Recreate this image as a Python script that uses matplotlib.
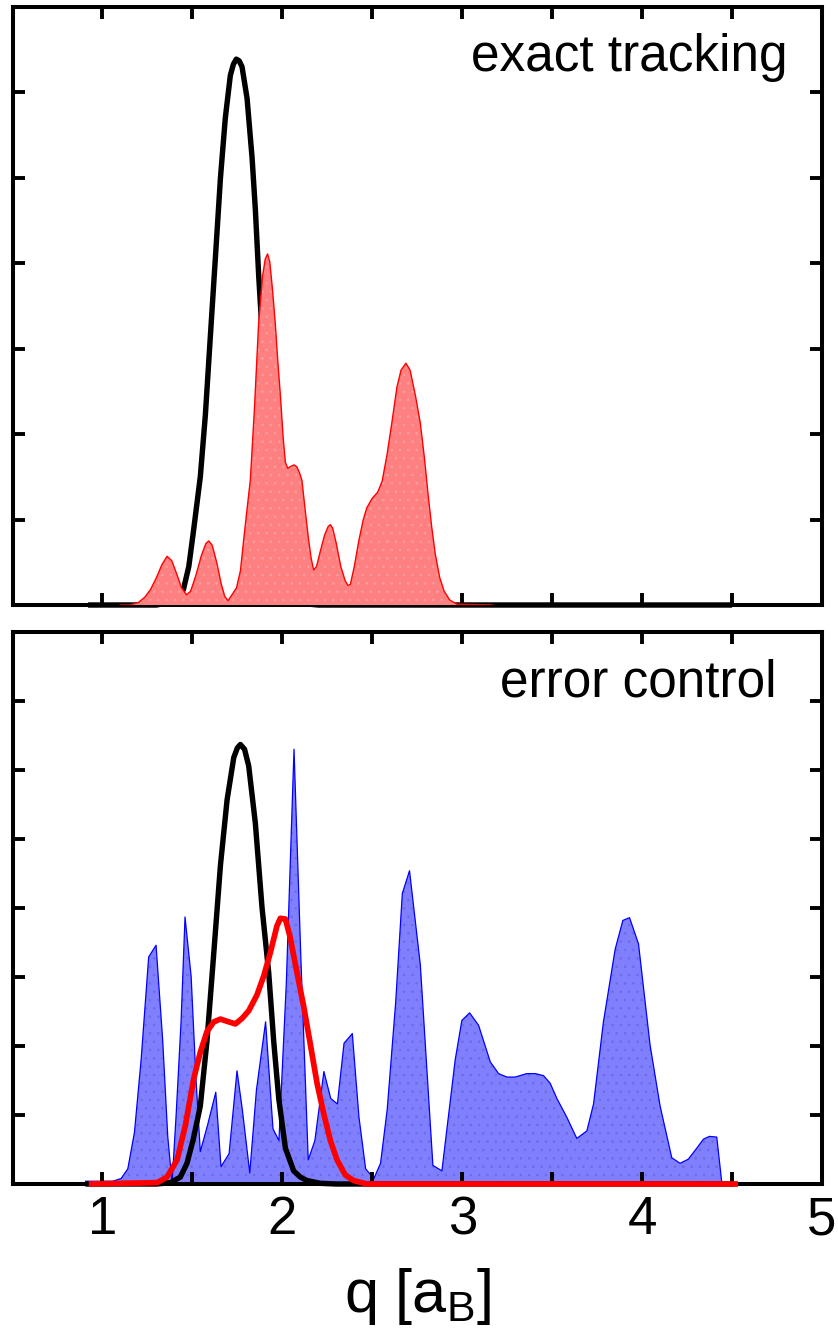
import matplotlib
matplotlib.use("Agg")
import matplotlib.pyplot as plt
from matplotlib.ticker import FixedLocator

plt.rcParams['font.family'] = ['Liberation Sans', 'DejaVu Sans']
plt.rcParams['mathtext.fontset'] = 'custom'
plt.rcParams['mathtext.rm'] = 'Liberation Sans'
plt.rcParams['mathtext.it'] = 'Liberation Sans'
plt.rcParams['hatch.linewidth'] = 0.6

# ---- upper panel: reference distribution (black) and exact tracking (red) ----
q_ref_top = [0.92, 1.30, 1.35, 1.40, 1.43, 1.45, 1.48, 1.507, 1.544, 1.572, 1.60,
             1.628, 1.656, 1.683, 1.711, 1.728, 1.744, 1.76, 1.776, 1.804, 1.832,
             1.85, 1.869, 1.90, 1.93, 1.96, 2.00, 2.05, 2.10, 2.20, 4.50]
p_ref_top = [0.0, 0.0, 0.02, 0.07, 0.12, 0.18, 0.45, 0.88, 1.50, 2.22, 3.15,
             4.07, 5.00, 5.70, 6.20, 6.33, 6.39, 6.37, 6.30, 5.93, 5.23,
             4.63, 3.84, 2.75, 1.75, 0.95, 0.38, 0.10, 0.02, 0.0, 0.0]

q_exact = [1.10, 1.15, 1.20, 1.235, 1.267, 1.30, 1.33, 1.359, 1.385, 1.41, 1.44,
           1.467, 1.49, 1.52, 1.55, 1.575, 1.591, 1.61, 1.635, 1.66, 1.68, 1.698,
           1.72, 1.745, 1.767, 1.785, 1.80, 1.822, 1.845, 1.868, 1.89, 1.905, 1.918,
           1.93, 1.945, 1.961, 1.975, 1.989, 2.005, 2.017, 2.03, 2.045, 2.065, 2.08,
           2.095, 2.109, 2.125, 2.145, 2.16, 2.174, 2.19, 2.21, 2.235, 2.255, 2.267,
           2.28, 2.30, 2.325, 2.35, 2.365, 2.378, 2.40, 2.425, 2.45, 2.47, 2.50,
           2.53, 2.555, 2.582, 2.61, 2.637, 2.66, 2.687, 2.71, 2.74, 2.767, 2.79,
           2.81, 2.83, 2.85, 2.875, 2.90, 2.93, 2.97, 3.17]
p_exact = [0.0, 0.0, 0.03, 0.09, 0.18, 0.32, 0.47, 0.57, 0.52, 0.38, 0.20,
           0.12, 0.16, 0.35, 0.58, 0.72, 0.75, 0.70, 0.50, 0.25, 0.10, 0.05,
           0.12, 0.20, 0.40, 0.76, 1.05, 1.46, 2.30, 3.29, 3.85, 4.05, 4.11,
           4.02, 3.70, 3.29, 2.85, 2.46, 1.95, 1.67, 1.60, 1.62, 1.64, 1.62,
           1.55, 1.46, 1.15, 0.78, 0.55, 0.41, 0.45, 0.62, 0.82, 0.92, 0.94,
           0.90, 0.72, 0.45, 0.28, 0.23, 0.24, 0.45, 0.75, 1.00, 1.14, 1.25,
           1.32, 1.45, 1.76, 2.15, 2.55, 2.75, 2.83, 2.75, 2.45, 2.13, 1.72,
           1.30, 0.92, 0.60, 0.32, 0.16, 0.06, 0.01, 0.0]

# ---- lower panel: reference (black), error control (blue), smoothed (red) ----
q_ref_bot = [0.92, 1.30, 1.378, 1.433, 1.470, 1.505, 1.544, 1.581, 1.619, 1.656,
             1.693, 1.730, 1.750, 1.767, 1.790, 1.813, 1.850, 1.887, 1.924, 1.952,
             1.980, 2.017, 2.063, 2.100, 2.137, 2.211, 2.30, 4.50]
p_ref_bot = [0.0, 0.0, 0.02, 0.10, 0.30, 0.65, 1.13, 2.07, 3.35, 4.62,
             5.57, 6.18, 6.32, 6.37, 6.30, 6.06, 5.23, 4.01, 3.07, 2.07,
             1.24, 0.52, 0.19, 0.10, 0.05, 0.01, 0.0, 0.0]

q_ctrl = [0.906, 1.057, 1.104, 1.141, 1.178, 1.215, 1.257, 1.298, 1.335, 1.363,
          1.387, 1.409, 1.437, 1.459, 1.493, 1.520, 1.544, 1.585, 1.630, 1.659,
          1.704, 1.748, 1.778, 1.819, 1.856, 1.907, 1.948, 1.981, 2.022, 2.065,
          2.102, 2.144, 2.181, 2.231, 2.269, 2.306, 2.343, 2.389, 2.426, 2.463,
          2.509, 2.546, 2.583, 2.630, 2.667, 2.707, 2.767, 2.837, 2.887, 2.961,
          2.998, 3.041, 3.091, 3.156, 3.202, 3.248, 3.294, 3.359, 3.406, 3.452,
          3.489, 3.526, 3.581, 3.637, 3.693, 3.730, 3.785, 3.850, 3.893, 3.930,
          3.980, 4.044, 4.100, 4.165, 4.211, 4.257, 4.304, 4.341, 4.374, 4.415,
          4.443]
p_ctrl = [0.04, 0.04, 0.08, 0.22, 0.75, 1.80, 3.29, 3.46, 2.08, 0.69,
          0.02, 0.97, 2.35, 3.87, 3.01, 1.52, 0.47, 0.86, 1.33, 0.25,
          0.44, 1.64, 1.07, 0.16, 1.36, 2.35, 0.80, 0.63, 2.90, 6.30,
          3.35, 0.35, 0.63, 1.63, 1.24, 1.16, 2.04, 2.18, 0.97, 0.22,
          0.08, 0.30, 1.08, 2.63, 4.21, 4.54, 3.18, 0.27, 0.19, 1.80,
          2.37, 2.48, 2.30, 1.77, 1.60, 1.55, 1.55, 1.60, 1.60, 1.57,
          1.46, 1.24, 0.97, 0.66, 0.77, 1.16, 2.35, 3.40, 3.82, 3.86,
          3.48, 2.02, 1.13, 0.38, 0.30, 0.36, 0.52, 0.65, 0.69, 0.68,
          0.02]

q_smooth = [0.924, 1.304, 1.359, 1.415, 1.461, 1.507, 1.544, 1.581, 1.619, 1.656,
            1.702, 1.739, 1.776, 1.813, 1.859, 1.896, 1.933, 1.970, 1.989, 2.017,
            2.044, 2.081, 2.119, 2.156, 2.193, 2.230, 2.267, 2.304, 2.350, 2.396,
            2.470, 4.533]
p_smooth = [0.0, 0.02, 0.10, 0.35, 0.85, 1.52, 1.91, 2.21, 2.35, 2.39,
            2.35, 2.32, 2.40, 2.51, 2.74, 3.01, 3.35, 3.74, 3.85, 3.84,
            3.57, 3.07, 2.57, 2.02, 1.46, 1.02, 0.63, 0.35, 0.13, 0.05,
            0.0, 0.0]

x_major = [1, 2, 3, 4, 5]
x_minor = [1.5, 2.5, 3.5, 4.5]
x_labels = ['1', '2', '3', '4', '5']

W, H = 838, 1329
fig = plt.figure(figsize=(W / 100, H / 100), dpi=100)

def frame(l, t, r, b):
    return [l / W, 1 - b / H, (r - l) / W, (b - t) / H]

ax1 = fig.add_axes(frame(12.5, 7, 822, 605))
ax2 = fig.add_axes(frame(12.5, 632, 822, 1184))

for ax, ytop in ((ax1, 7), (ax2, 8)):
    ax.set_xlim(0.5, 5)
    ax.set_ylim(0, ytop)
    ax.xaxis.set_major_locator(FixedLocator(x_major))
    ax.xaxis.set_minor_locator(FixedLocator(x_minor))
    ax.set_yticks(range(1, ytop))
    ax.set_yticklabels([])
    ax.tick_params(which='both', direction='in', top=True, right=True,
                   length=8.5, width=2.8, labelsize=38, pad=8)
    for s in ax.spines.values():
        s.set_linewidth(2.9)

ax1.set_xticklabels([])
ax2.set_xticklabels(x_labels)

# upper panel
ax1.plot(q_ref_top, p_ref_top, color='black', lw=3.9, zorder=2,
         solid_joinstyle='round', solid_capstyle='butt', clip_on=False)
ax1.fill_between(q_exact, 0, p_exact, facecolor='#ff8080', edgecolor='#f4a0a0',
                 hatch='..', lw=0, zorder=3)
ax1.plot(q_exact, p_exact, color='red', lw=1.0, zorder=3.1)
ax1.text(0.958, 0.893, 'exact tracking', transform=ax1.transAxes,
         ha='right', va='baseline', fontsize=37)

# lower panel
ax2.fill_between(q_ctrl, 0, p_ctrl, facecolor='#8080ff', edgecolor='#6c6ce8',
                 hatch='..', lw=0, zorder=1)
ax2.plot(q_ctrl, p_ctrl, color='#0000ff', lw=0.9, zorder=1.1)
ax2.plot(q_ref_bot, p_ref_bot, color='black', lw=3.9, zorder=3,
         solid_joinstyle='round', clip_on=False)
ax2.plot(q_smooth, p_smooth, color='red', lw=4.1, zorder=4,
         solid_joinstyle='round', solid_capstyle='butt', clip_on=False)
ax2.text(0.944, 0.884, 'error control', transform=ax2.transAxes,
         ha='right', va='baseline', fontsize=37)
ax2.set_xlabel(r'q [a$_\mathregular{B}$]', fontsize=44, labelpad=15)

fig.savefig('out.png', dpi=100)
